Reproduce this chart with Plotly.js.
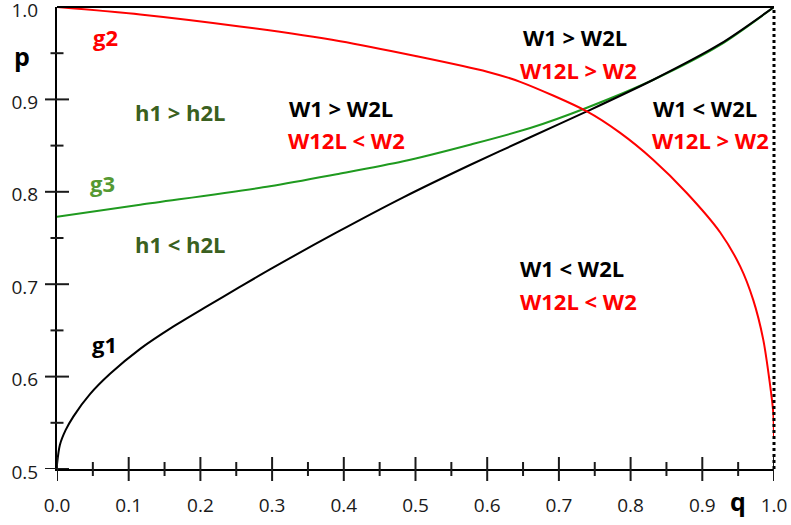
<!DOCTYPE html>
<html>
<head>
<meta charset="utf-8">
<script src="https://cdn.plot.ly/plotly-3.0.1.min.js"></script>
<style>html,body{margin:0;padding:0;background:#fff;}#chart{width:791px;height:525px;}</style>
</head>
<body>
<div id="chart"></div>
<script>
// g1 (black)
var q1 = [0, 0.004, 0.012, 0.023, 0.046, 0.074, 0.116, 0.162, 0.209, 0.255, 0.297, 0.39, 0.483, 0.576, 0.66, 0.739, 0.831, 0.925, 1.0];
var g1 = [0.505, 0.526, 0.542, 0.557, 0.581, 0.603, 0.630, 0.654, 0.676, 0.697, 0.716, 0.756, 0.794, 0.829, 0.859, 0.887, 0.921, 0.960, 1.0];
// g2 (red)
var q2 = [0, 0.116, 0.255, 0.395, 0.5, 0.6, 0.646, 0.739, 0.785, 0.831, 0.878, 0.925, 0.953, 0.971, 0.985, 0.994, 0.999, 1.0];
var g2 = [1.0, 0.992, 0.979, 0.963, 0.947, 0.930, 0.919, 0.887, 0.864, 0.835, 0.799, 0.756, 0.719, 0.683, 0.640, 0.594, 0.561, 0.535];
// g3 (green)
var q3 = [0, 0.116, 0.297, 0.39, 0.483, 0.576, 0.66, 0.739, 0.831, 0.925, 1.0];
var g3 = [0.773, 0.786, 0.806, 0.819, 0.833, 0.851, 0.869, 0.891, 0.921, 0.959, 1.0];

// axis ticks
var xMajor = [0, 0.1, 0.2, 0.3, 0.4, 0.5, 0.6, 0.7, 0.8, 0.9, 1.0];
var xMinor = [0.05, 0.15, 0.25, 0.35, 0.45, 0.55, 0.65, 0.75, 0.85, 0.95];
var xTickText = ["0.0", "0.1", "0.2", "0.3", "0.4", "0.5", "0.6", "0.7", "0.8", "0.9", "1.0"];
var yMajor = [0.5, 0.6, 0.7, 0.8, 0.9];
var yMinor = [0.55, 0.65, 0.75, 0.85, 0.95];
var yTickVals = [0.5, 0.6, 0.7, 0.8, 0.9, 1.0];
var yTickText = ["0.5", "0.6", "0.7", "0.8", "0.9", "1.0"];

// region / curve labels: [text, q, p, color]
var labels = [
  ["g2", 0.067, 0.967, "#ff0000"],
  ["h1 > h2L", 0.172, 0.886, "#3a6020"],
  ["W1 > W2L", 0.396, 0.891, "#000000"],
  ["W12L < W2", 0.404, 0.856, "#ff0000"],
  ["W1 > W2L", 0.722, 0.967, "#000000"],
  ["W12L > W2", 0.727, 0.932, "#ff0000"],
  ["W1 < W2L", 0.904, 0.891, "#000000"],
  ["W12L > W2", 0.912, 0.856, "#ff0000"],
  ["g3", 0.063, 0.810, "#559933"],
  ["h1 < h2L", 0.172, 0.743, "#3a6020"],
  ["W1 < W2L", 0.718, 0.718, "#000000"],
  ["W12L < W2", 0.727, 0.682, "#ff0000"],
  ["g1", 0.066, 0.635, "#000000"]
];
// axis name labels (paper coordinates)
var axisNames = [
  ["p", -0.049, 0.893],
  ["q", 0.950, -0.070]
];

var FONT = "Open Sans, sans-serif";
var TICK_COLOR = "#1a1a1a";

var traces = [
  {x: q3, y: g3, mode: "lines", line: {color: "#1f9a1f", width: 2, shape: "spline", smoothing: 0.8}, hoverinfo: "skip"},
  {x: q1, y: g1, mode: "lines", line: {color: "#000000", width: 2, shape: "spline", smoothing: 0.8}, hoverinfo: "skip"},
  {x: q2, y: g2, mode: "lines", line: {color: "#ff0000", width: 2, shape: "spline", smoothing: 0.8}, hoverinfo: "skip"}
];

// crossing tick marks drawn as pixel-sized shapes anchored on the axes
var shapes = [];
function xTick(v, half) {
  shapes.push({type: "line", xref: "x", yref: "paper", ysizemode: "pixel", yanchor: 0,
    x0: v, x1: v, y0: -half, y1: half, line: {color: TICK_COLOR, width: 2}});
}
function yTick(v, half) {
  shapes.push({type: "line", yref: "y", xref: "paper", xsizemode: "pixel", xanchor: 0,
    y0: v, y1: v, x0: -half, x1: half, line: {color: TICK_COLOR, width: 2}});
}
xMajor.forEach(function (v) { xTick(v, 12); });
xMinor.forEach(function (v) { xTick(v, 7); });
yMajor.forEach(function (v) { yTick(v, 12); });
yMinor.forEach(function (v) { yTick(v, 6.5); });
// frame: solid top, dotted right
shapes.push({type: "line", xref: "paper", yref: "paper", x0: 0, x1: 1, y0: 1, y1: 1, line: {color: "#000", width: 2}});
shapes.push({type: "line", xref: "paper", yref: "paper", x0: 1, x1: 1, y0: 0, y1: 1, line: {color: "#000", width: 3, dash: "dot"}});

var annotations = labels.map(function (l) {
  return {
    text: "<b>" + l[0] + "</b>", x: l[1], y: l[2], xref: "x", yref: "y",
    showarrow: false, xanchor: "center", yanchor: "middle",
    font: {family: FONT, size: 22, color: l[3]}
  };
}).concat(axisNames.map(function (a) {
  return {
    text: "<b>" + a[0] + "</b>", x: a[1], y: a[2], xref: "paper", yref: "paper",
    showarrow: false, xanchor: "center", yanchor: "middle",
    font: {family: FONT, size: 25, color: "#000000"}
  };
}));

var layout = {
  width: 791, height: 525,
  margin: {l: 57, r: 17, t: 7, b: 56},
  paper_bgcolor: "#ffffff", plot_bgcolor: "#ffffff",
  showlegend: false,
  xaxis: {
    range: [0, 1], showgrid: false, zeroline: false,
    showline: true, linecolor: "#000", linewidth: 2,
    tickmode: "array", tickvals: xMajor, ticktext: xTickText,
    ticks: "", ticklabelstandoff: 18, ticklabeloverflow: "allow",
    tickfont: {family: FONT, size: 19, color: "#1a1a1a"}
  },
  yaxis: {
    range: [0.5, 1], showgrid: false, zeroline: false,
    showline: true, linecolor: "#000", linewidth: 2,
    tickmode: "array", tickvals: yTickVals, ticktext: yTickText,
    ticks: "", ticklabelstandoff: 13, ticklabelshift: 3, ticklabeloverflow: "allow",
    tickfont: {family: FONT, size: 19, color: "#1a1a1a"}
  },
  shapes: shapes,
  annotations: annotations
};

Plotly.newPlot("chart", traces, layout, {displayModeBar: false});
</script>
</body>
</html>
